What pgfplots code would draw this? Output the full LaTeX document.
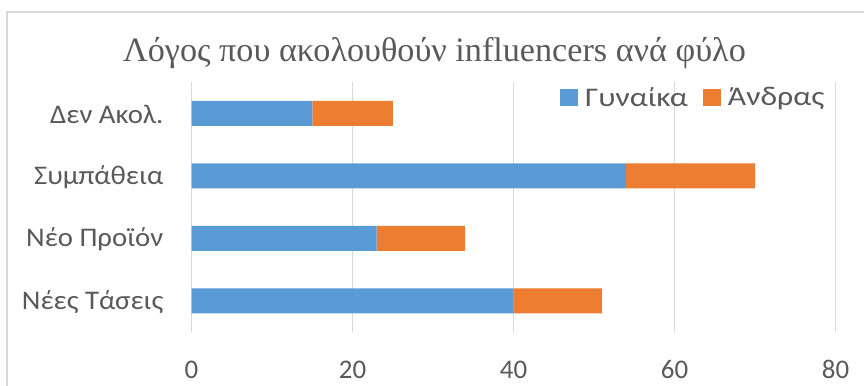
\documentclass[border=0pt]{standalone}
\usepackage{pgfplots}
\pgfplotsset{compat=1.18}
\usepackage{fontspec}
\setmainfont{Carlito}
\newfontfamily\wide[FakeStretch=1.07]{Carlito}
\newfontfamily\wider[FakeStretch=1.18]{Carlito}
\newfontfamily\titlefont{Liberation Serif}
\definecolor{cblue}{HTML}{5B9BD5}
\definecolor{corange}{HTML}{ED7D31}
\definecolor{ctext}{HTML}{595959}
\definecolor{cgrid}{HTML}{D9D9D9}
\begin{document}
\begin{tikzpicture}[x=1bp,y=1bp]
\useasboundingbox (0,0) rectangle (864,385);
\draw[cgrid, line width=1.2bp] (7,-20) -- (7,373) -- (900,373);
\node[anchor=base, text=ctext, inner sep=0pt, font=\titlefont\fontsize{34.3}{40}\selectfont] at (434.5,324) {Λόγος που ακολουθούν influencers ανά φύλο};
\begin{axis}[
  at={(191.5bp,53bp)}, anchor=south west,
  scale only axis, width=644bp, height=250bp,
  xbar stacked, bar width=25bp,
  xmin=0, xmax=80, xtick={0,20,40,60,80},
  ymin=-0.5, ymax=3.5, ytick={0,1,2,3},
  yticklabels={Νέες Τάσεις, Νέο Προϊόν, Συμπάθεια, Δεν Ακολ.},
  axis line style={draw=none},
  tick style={draw=none},
  xmajorgrids, grid style={cgrid, line width=1.2bp},
  ticklabel style={text=ctext, font=\fontsize{27}{32}\selectfont, inner sep=0pt},
  /pgf/number format/assume math mode=true,
  xticklabel style={anchor=base, yshift=-46bp},
  yticklabel style={anchor=east, xshift=-28bp, yshift=-1bp, font=\wide\fontsize{27}{32}\selectfont},
  legend style={at={(1,1)}, anchor=east, xshift=-11bp, yshift=-15.5bp,
    draw=none, fill=none, inner sep=0pt, nodes={inner sep=0pt},
    legend columns=2, font=\wider\fontsize{27}{32}\selectfont, text=ctext,
    /tikz/every odd column/.append style={column sep=7bp},
    /tikz/every even column/.append style={column sep=15bp}},
  legend image code/.code={\fill[#1] (0bp,-8.5bp) rectangle (18bp,8.5bp);},
  clip=false,
]
\addplot[fill=cblue, draw=none] coordinates {(40,0) (23,1) (54,2) (15,3)};
\addplot[fill=corange, draw=none] coordinates {(11,0) (11,1) (16,2) (10,3)};
\legend{Γυναίκα, Άνδρας}
\end{axis}
\end{tikzpicture}
\end{document}
